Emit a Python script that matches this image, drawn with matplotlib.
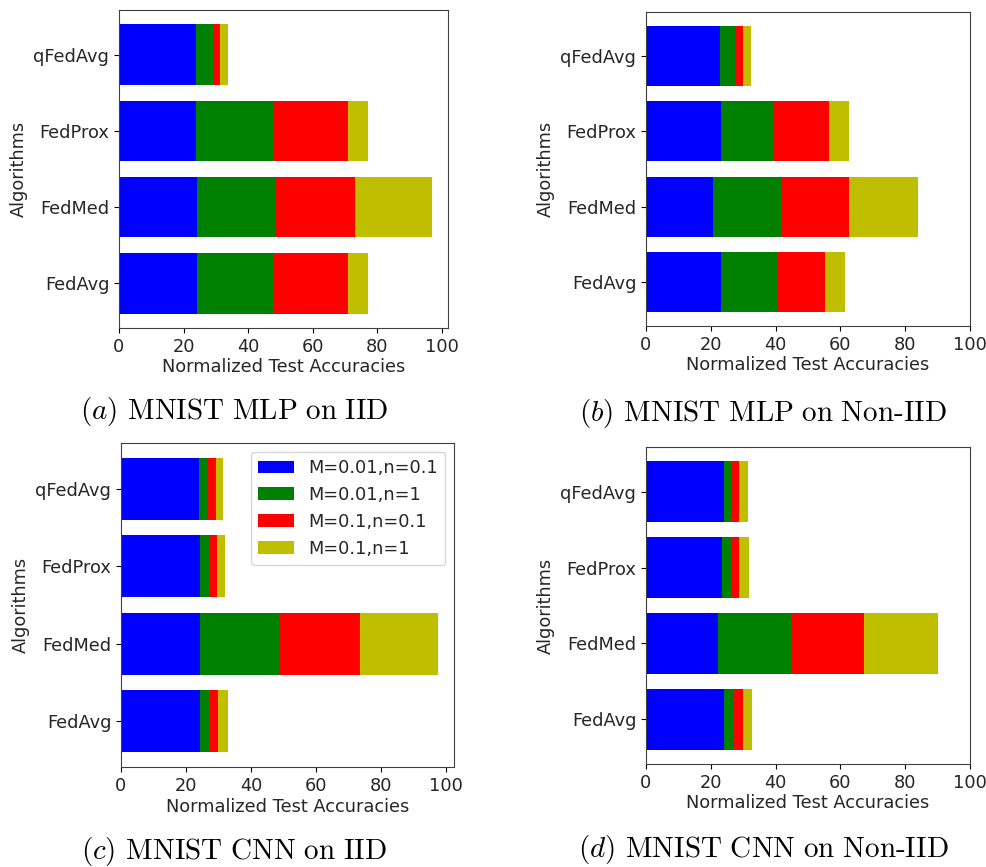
import matplotlib
matplotlib.use("Agg")
import matplotlib.pyplot as plt
import numpy as np

plt.rcParams['font.family'] = ['DejaVu Sans']
plt.rcParams['mathtext.fontset'] = 'cm'

algorithms = ["FedAvg", "FedMed", "FedProx", "qFedAvg"]
series_labels = ["M=0.01,n=0.1", "M=0.01,n=1", "M=0.1,n=0.1", "M=0.1,n=1"]
colors = ["b", "g", "r", "y"]

# (a) MNIST MLP on IID  -- order: FedAvg, FedMed, FedProx, qFedAvg
a_s1 = [24.3, 24.3, 23.9, 23.9]
a_s2 = [23.4, 24.1, 23.8, 5.1]
a_s3 = [23.4, 24.6, 23.4, 2.3]
a_s4 = [6.2, 24.1, 6.2, 2.4]

# (b) MNIST MLP on Non-IID
b_s1 = [23.1, 20.6, 23.1, 22.7]
b_s2 = [17.2, 21.1, 16.5, 5.1]
b_s3 = [15.0, 21.0, 17.0, 2.1]
b_s4 = [6.2, 21.1, 6.1, 2.5]

# (c) MNIST CNN on IID
c_s1 = [24.4, 24.4, 24.4, 24.0]
c_s2 = [2.6, 24.3, 2.6, 2.6]
c_s3 = [3.0, 24.7, 2.5, 2.5]
c_s4 = [2.8, 24.2, 2.6, 2.2]

# (d) MNIST CNN on Non-IID
d_s1 = [24.2, 22.3, 23.5, 24.2]
d_s2 = [2.7, 22.4, 2.7, 2.4]
d_s3 = [2.9, 22.6, 2.6, 2.2]
d_s4 = [2.9, 22.9, 2.9, 2.6]

captions = [r"$(a)$ $\mathrm{MNIST\ MLP\ on\ IID}$",
            r"$(b)$ $\mathrm{MNIST\ MLP\ on\ Non\text{-}IID}$",
            r"$(c)$ $\mathrm{MNIST\ CNN\ on\ IID}$",
            r"$(d)$ $\mathrm{MNIST\ CNN\ on\ Non\text{-}IID}$"]

W, H = 987, 867
fig = plt.figure(figsize=(W / 100, H / 100), dpi=100)

def rect(l, r, t, b):
    return [l / W, 1 - b / H, (r - l) / W, (b - t) / H]

panels = [
    (rect(119, 448, 10, 328), [a_s1, a_s2, a_s3, a_s4], None, (234, 412)),
    (rect(646, 970, 12, 326), [b_s1, b_s2, b_s3, b_s4], (0, 100), (763, 413)),
    (rect(121, 454, 443, 767), [c_s1, c_s2, c_s3, c_s4], None, (234, 851)),
    (rect(646, 970, 447, 764), [d_s1, d_s2, d_s3, d_s4], (0, 100), (763, 849)),
]

FS = 12.8
TXT = '#262626'
for i, (pos, series, xlim, cap) in enumerate(panels):
    ax = fig.add_axes(pos)
    y = np.arange(len(algorithms))
    left = np.zeros(len(algorithms))
    for s, lab, col in zip(series, series_labels, colors):
        ax.barh(y, s, left=left, color=col, label=lab, height=0.8)
        left = left + np.array(s)
    ax.set_yticks(y)
    ax.set_yticklabels(algorithms, fontsize=FS, color=TXT)
    ax.set_xticks([0, 20, 40, 60, 80, 100])
    ax.tick_params(axis='x', labelsize=FS, labelcolor=TXT)
    for sp in ax.spines.values():
        sp.set_color('#404040')
    if xlim is not None:
        ax.set_xlim(*xlim)
    ax.set_xlabel("Normalized Test Accuracies", fontsize=FS, color=TXT, labelpad=2)
    ax.set_ylabel("Algorithms", fontsize=FS, color=TXT)
    if i == 2:
        leg = ax.legend(loc="upper right", fontsize=FS)
        for t in leg.get_texts():
            t.set_color(TXT)
    fig.text(cap[0] / W, 1 - cap[1] / H, captions[i], ha="center", va="center", fontsize=21)

fig.savefig("out.png", dpi=100)
